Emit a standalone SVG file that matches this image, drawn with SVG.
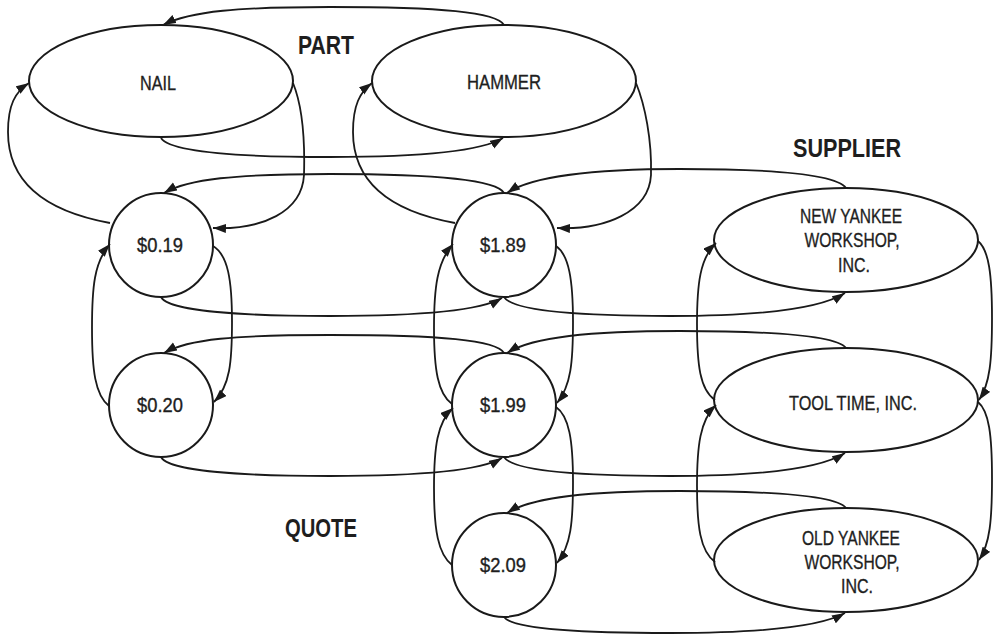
<svg xmlns="http://www.w3.org/2000/svg" width="994" height="635" viewBox="0 0 994 635">
<defs>
<marker id="arr" markerUnits="userSpaceOnUse" markerWidth="14" markerHeight="10" refX="13" refY="4.5" orient="auto">
<path d="M0,0 L13,4.5 L0,9 z" fill="#1a1a1a"/>
</marker>
<style>
.node ellipse, .node circle { fill:#fff; stroke:#1a1a1a; stroke-width:2; }
#connectors path { fill:none; stroke:#1a1a1a; stroke-width:1.8; marker-end:url(#arr); }
text { font-family:"Liberation Sans Narrow","Liberation Sans",Arial,sans-serif; fill:#1e1e1e; text-anchor:middle; }
.t { font-size:20.5px; stroke:#1e1e1e; stroke-width:0.35; }
.h { font-size:26px; font-weight:bold; }
</style>
</defs>
<rect width="994" height="635" fill="#fff"/>

<g id="titles">
<text class="h" x="326" y="54" textLength="56" lengthAdjust="spacingAndGlyphs">PART</text>
<text class="h" x="847" y="157" textLength="108" lengthAdjust="spacingAndGlyphs">SUPPLIER</text>
<text class="h" x="321" y="537" textLength="72" lengthAdjust="spacingAndGlyphs">QUOTE</text>
</g>

<g id="nail" class="node"><ellipse cx="161" cy="81" rx="132" ry="56"/><text class="t" x="158" y="90" textLength="36" lengthAdjust="spacingAndGlyphs">NAIL</text></g>
<g id="hammer" class="node"><ellipse cx="504" cy="81" rx="132" ry="56"/><text class="t" x="504" y="89" textLength="74" lengthAdjust="spacingAndGlyphs">HAMMER</text></g>

<g id="q019" class="node"><circle cx="161" cy="245" r="52"/><text class="t" x="160" y="252" textLength="46" lengthAdjust="spacingAndGlyphs">$0.19</text></g>
<g id="q020" class="node"><circle cx="161" cy="405" r="52"/><text class="t" x="160" y="412" textLength="46" lengthAdjust="spacingAndGlyphs">$0.20</text></g>
<g id="q189" class="node"><circle cx="504" cy="245" r="52"/><text class="t" x="503" y="252" textLength="46" lengthAdjust="spacingAndGlyphs">$1.89</text></g>
<g id="q199" class="node"><circle cx="504" cy="405" r="52"/><text class="t" x="503" y="412" textLength="46" lengthAdjust="spacingAndGlyphs">$1.99</text></g>
<g id="q209" class="node"><circle cx="504" cy="565" r="52"/><text class="t" x="503" y="572" textLength="46" lengthAdjust="spacingAndGlyphs">$2.09</text></g>

<g id="newyankee" class="node"><ellipse cx="846" cy="240" rx="132" ry="52"/>
<text class="t" x="851" y="223" textLength="102" lengthAdjust="spacingAndGlyphs">NEW YANKEE</text>
<text class="t" x="852" y="247" textLength="95" lengthAdjust="spacingAndGlyphs">WORKSHOP,</text>
<text class="t" x="854" y="272" textLength="32" lengthAdjust="spacingAndGlyphs">INC.</text></g>
<g id="tooltime" class="node"><ellipse cx="846" cy="400" rx="132" ry="52"/>
<text class="t" x="853" y="410" textLength="128" lengthAdjust="spacingAndGlyphs">TOOL TIME, INC.</text></g>
<g id="oldyankee" class="node"><ellipse cx="846" cy="560" rx="132" ry="52"/>
<text class="t" x="851" y="545" textLength="98" lengthAdjust="spacingAndGlyphs">OLD YANKEE</text>
<text class="t" x="852" y="569" textLength="95" lengthAdjust="spacingAndGlyphs">WORKSHOP,</text>
<text class="t" x="857" y="593" textLength="32" lengthAdjust="spacingAndGlyphs">INC.</text></g>

<g id="connectors">
<!-- part row -->
<path d="M504,25 C497,12 440,7 330,7 C240,7 190,11 163,25"/>
<path d="M161,138 C170,152 240,157 330,157 C420,157 480,152 503,138"/>
<path d="M293,83 C302,105 305,140 304,175 C302,212 262,230 213,228"/>
<path d="M110,223 C50,212 8,185 8,132 C8,105 15,92 29,83"/>
<path d="M636,83 C645,105 652,140 651,175 C649,212 605,230 557,228"/>
<path d="M455,223 C395,212 353,185 353,132 C353,105 360,92 372,83"/>
<!-- row 1 -->
<path d="M504,193 C497,180 440,174 330,174 C235,174 188,179 164,193"/>
<path d="M846,188 C836,174 770,169 680,169 C590,169 532,176 507,193"/>
<path d="M161,297 C168,311 240,316 330,316 C420,316 480,311 502,298"/>
<path d="M504,297 C512,311 580,316 670,316 C760,316 820,309 845,293"/>
<!-- row 2 -->
<path d="M504,353 C497,340 440,335 330,335 C235,335 188,339 164,353"/>
<path d="M846,348 C836,335 770,331 680,331 C590,331 532,337 507,353"/>
<path d="M161,457 C168,471 240,476 330,476 C420,476 480,471 502,458"/>
<path d="M504,457 C512,471 580,476 670,476 C760,476 820,469 845,453"/>
<!-- row 3 -->
<path d="M846,508 C836,495 770,491 680,491 C590,491 532,497 507,513"/>
<path d="M504,617 C512,629 580,633 670,633 C760,633 820,627 845,613"/>
<!-- left column -->
<path d="M213,246 C228,255 232,280 232,322 C232,362 230,386 214,402"/>
<path d="M109,406 C95,395 92,370 92,328 C92,288 94,262 110,244"/>
<!-- middle column -->
<path d="M556,246 C569,255 573,280 573,322 C573,362 571,386 557,403"/>
<path d="M452,404 C438,394 434,370 434,328 C434,288 437,262 453,244"/>
<path d="M556,407 C569,416 573,440 573,482 C573,522 571,546 557,563"/>
<path d="M452,565 C438,554 434,530 434,488 C434,448 437,422 453,408"/>
<!-- right column -->
<path d="M978,241 C989,250 992,275 992,318 C992,360 990,384 979,400"/>
<path d="M715,400 C700,390 697,365 697,324 C697,284 700,258 716,243"/>
<path d="M978,402 C989,411 992,435 992,478 C992,520 990,544 979,560"/>
<path d="M715,562 C700,551 697,526 697,486 C697,446 700,420 716,405"/>
</g>
</svg>
